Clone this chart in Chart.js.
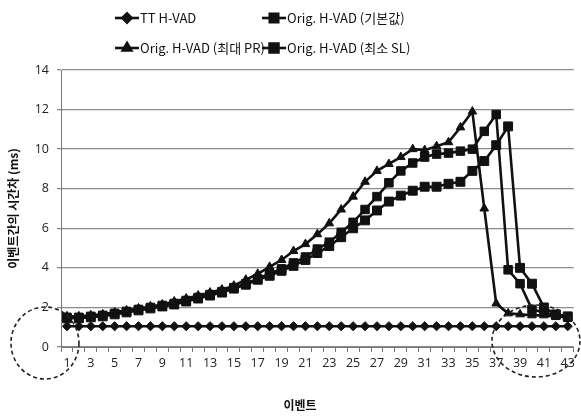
<!DOCTYPE html>
<html>
<head>
<meta charset="utf-8">
<script src="https://cdn.jsdelivr.net/npm/chart.js@4/dist/chart.umd.min.js"></script>
<style>
  html, body { margin: 0; padding: 0; background: #fff; }
  #wrap { width: 581px; height: 418px; }
</style>
</head>
<body>
<div id="wrap"><canvas id="grafico" width="581" height="418"></canvas></div>
<script>
// eixo x: eventos 1..43
const eventos = [1, 2, 3, 4, 5, 6, 7, 8, 9, 10, 11, 12, 13, 14, 15, 16, 17, 18, 19, 20,
  21, 22, 23, 24, 25, 26, 27, 28, 29, 30, 31, 32, 33, 34, 35, 36, 37, 38, 39, 40, 41, 42, 43];

const nomes = ["TT H-VAD", "Orig. H-VAD (기본값)", "Orig. H-VAD (최대 PR)", "Orig. H-VAD (최소 SL)"];

const ttHvad = [1.05, 1.05, 1.05, 1.05, 1.05, 1.05, 1.05, 1.05, 1.05, 1.05, 1.05, 1.05, 1.05, 1.05, 1.05,
  1.05, 1.05, 1.05, 1.05, 1.05, 1.05, 1.05, 1.05, 1.05, 1.05, 1.05, 1.05, 1.05, 1.05, 1.05, 1.05, 1.05,
  1.05, 1.05, 1.05, 1.05, 1.05, 1.05, 1.05, 1.05, 1.05, 1.05, 1.05];

const origPadrao = [1.5, 1.5, 1.55, 1.6, 1.7, 1.8, 1.9, 2.0, 2.1, 2.2, 2.35, 2.5, 2.65, 2.8, 3.0,
  3.2, 3.45, 3.7, 3.95, 4.25, 4.55, 4.95, 5.3, 5.8, 6.3, 6.95, 7.6, 8.3, 8.9, 9.3, 9.6, 9.75,
  9.8, 9.9, 10.0, 10.9, 11.75, 3.9, 3.2, 1.9, 1.75, 1.6, 1.5];

const origMaxPR = [1.55, 1.55, 1.6, 1.65, 1.75, 1.85, 1.95, 2.05, 2.15, 2.3, 2.45, 2.6, 2.75, 2.9, 3.1,
  3.4, 3.7, 4.05, 4.4, 4.85, 5.2, 5.7, 6.25, 6.95, 7.6, 8.35, 8.9, 9.25, 9.6, 10.0, 9.95, 10.15,
  10.35, 11.1, 11.9, 7.0, 2.2, 1.7, 1.65, 1.6, 1.6, 1.55, 1.5];

const origMinSL = [1.45, 1.45, 1.5, 1.55, 1.65, 1.75, 1.85, 1.95, 2.05, 2.15, 2.3, 2.45, 2.6, 2.75, 2.95,
  3.15, 3.4, 3.6, 3.85, 4.1, 4.4, 4.75, 5.1, 5.55, 6.0, 6.4, 6.9, 7.35, 7.65, 7.9, 8.1, 8.1,
  8.25, 8.35, 8.9, 9.4, 10.2, 11.15, 4.0, 3.2, 2.0, 1.65, 1.55];

const ticksY = [0, 2, 4, 6, 8, 10, 12, 14];

const fonteCJK = "'Noto Sans CJK KR', 'Noto Sans', sans-serif";

function serie(label, data, estilo, raio) {
  return {
    label: label,
    data: data,
    borderColor: "#111",
    backgroundColor: "#111",
    borderWidth: 2.6,
    pointStyle: estilo,
    pointRadius: raio,
    pointBorderWidth: 1,
    tension: 0,
  };
}

// legenda em duas colunas + círculos tracejados
const extras = {
  id: "extras",
  afterDraw(chart) {
    const ctx = chart.ctx;
    const itens = [
      { x: 115, y: 18 }, { x: 262, y: 18 },
      { x: 115, y: 48 }, { x: 262, y: 48 },
    ];
    ctx.save();
    chart.data.datasets.forEach((ds, k) => {
      const p = itens[k];
      ctx.strokeStyle = "#111";
      ctx.lineWidth = 2.6;
      ctx.beginPath();
      ctx.moveTo(p.x, p.y);
      ctx.lineTo(p.x + 24, p.y);
      ctx.stroke();
      Chart.helpers.drawPoint(ctx, {
        pointStyle: ds.pointStyle,
        radius: ds.pointRadius,
        borderWidth: 1,
        rotation: 0,
      }, p.x + 12, p.y);
      ctx.fillStyle = "#111";
      ctx.fill();
      ctx.font = "13px " + fonteCJK;
      ctx.textBaseline = "middle";
      ctx.textAlign = "left";
      ctx.fillText(ds.label, p.x + 25, p.y);
    });

    // título do eixo x
    ctx.font = "bold 12px " + fonteCJK;
    ctx.textAlign = "center";
    ctx.fillText("이벤트", 300, 405);

    // círculos tracejados
    const xs = chart.scales.x;
    const ys = chart.scales.y;
    ctx.setLineDash([4, 3]);
    ctx.lineWidth = 1.6;
    ctx.strokeStyle = "#222";
    ctx.beginPath();
    ctx.ellipse(xs.getPixelForValue(0) - 22, ys.getPixelForValue(0) - 4, 34, 36, 0, 0, Math.PI * 2);
    ctx.stroke();
    ctx.beginPath();
    ctx.ellipse(xs.getPixelForValue(39) + 4, ys.getPixelForValue(0) - 6, 44, 36, 0, 0, Math.PI * 2);
    ctx.stroke();
    ctx.restore();
  },
};

const ctx = document.getElementById("grafico").getContext("2d");
new Chart(ctx, {
  type: "line",
  data: {
    labels: eventos,
    datasets: [
      serie(nomes[0], ttHvad, "rectRot", 4.6),
      serie(nomes[1], origPadrao, "rect", 6),
      serie(nomes[2], origMaxPR, "triangle", 5),
      serie(nomes[3], origMinSL, "rect", 6.3),
    ],
  },
  options: {
    responsive: false,
    animation: false,
    layout: { padding: { top: 70, right: 4, left: 0, bottom: 0 } },
    plugins: {
      legend: { display: false },
      tooltip: { enabled: false },
    },
    scales: {
      x: {
        offset: true,
        afterFit(scale) { scale.height = 71; },
        grid: {
          display: true,
          drawOnChartArea: false,
          offset: true,
          tickLength: 5,
          color: "#777",
        },
        border: { color: "#777", width: 1 },
        ticks: {
          autoSkip: false,
          maxRotation: 0,
          color: "#222",
          font: { size: 12.5, family: "'Open Sans', sans-serif" },
          padding: 4,
          callback: function (v, i) {
            return i % 2 === 0 ? eventos[i] : "";
          },
        },
      },
      y: {
        min: 0,
        max: 14,
        afterFit(scale) { scale.width = 61; },
        afterBuildTicks(scale) {
          scale.ticks = ticksY.map((v) => ({ value: v }));
        },
        grid: { color: "#8a8a8a", lineWidth: 1.3, tickLength: 4 },
        border: { color: "#777", width: 1 },
        ticks: {
          color: "#222",
          font: { size: 12.5, family: "'Open Sans', sans-serif" },
          padding: 8,
        },
        title: {
          display: true,
          text: "이벤트간의 시간차 (ms)",
          color: "#111",
          font: { size: 12, weight: "bold", family: fonteCJK },
          padding: { top: 6, bottom: 0 },
        },
      },
    },
  },
  plugins: [extras],
});
</script>
</body>
</html>
